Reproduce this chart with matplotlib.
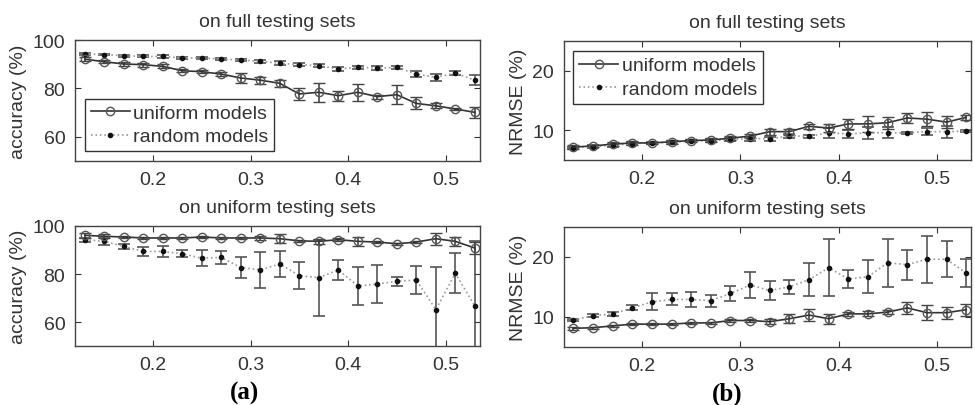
import matplotlib
matplotlib.use("Agg")
import matplotlib.pyplot as plt
from matplotlib.lines import Line2D

plt.rcParams["font.family"] = ["Liberation Sans", "DejaVu Sans"]

# sampling rate values on the x axis
rates = [0.13, 0.15, 0.17, 0.19, 0.21, 0.23, 0.25, 0.27, 0.29, 0.31, 0.33,
         0.35, 0.37, 0.39, 0.41, 0.43, 0.45, 0.47, 0.49, 0.51, 0.53]

# (a) accuracy, full testing sets
acc_full_uni = [92.1, 91.0, 90.1, 89.8, 89.1, 87.3, 86.9, 85.9, 84.3, 83.4, 82.1,
                77.7, 78.4, 77.0, 78.4, 76.6, 77.4, 73.8, 72.8, 71.5, 70.1]
acc_full_uni_err = [0.8, 0.7, 0.7, 0.8, 0.8, 0.7, 0.6, 0.8, 2.0, 1.5, 1.5,
                    2.5, 4.0, 2.0, 3.6, 0.8, 4.0, 2.5, 1.0, 0.5, 2.4]
acc_full_rnd = [94.2, 94.0, 93.5, 93.2, 93.2, 92.6, 92.6, 92.1, 91.7, 91.2, 90.4,
                89.8, 89.4, 88.0, 88.7, 88.4, 88.7, 85.9, 84.6, 86.3, 83.4]
acc_full_rnd_err = [0.5, 0.4, 0.5, 0.4, 0.5, 0.4, 0.4, 0.4, 0.4, 0.5, 0.8,
                    0.6, 0.5, 0.7, 0.5, 0.8, 0.7, 1.2, 1.5, 0.8, 2.2]

# (a) accuracy, uniform testing sets
acc_unif_uni = [96.1, 95.7, 95.4, 95.0, 95.0, 95.0, 95.4, 95.0, 95.0, 95.0, 94.7,
                93.8, 93.6, 94.3, 93.6, 93.3, 92.6, 93.3, 94.7, 93.6, 90.8]
acc_unif_uni_err = [1.0, 0.8, 0.6, 0.6, 0.5, 0.5, 0.5, 0.5, 0.5, 1.0, 1.8,
                    0.5, 1.0, 0.5, 2.0, 0.5, 0.5, 0.6, 2.5, 1.8, 2.5]
acc_unif_rnd = [94.3, 93.6, 91.5, 89.4, 89.4, 88.4, 86.6, 86.9, 82.7, 81.7, 84.2,
                79.3, 78.5, 81.7, 75.0, 75.8, 77.0, 77.5, 65.2, 80.3, 66.7]
acc_unif_rnd_err = [0.8, 1.7, 1.0, 1.7, 2.4, 1.5, 3.3, 2.8, 4.2, 7.5, 5.5,
                    5.6, 15.8, 4.0, 8.0, 8.0, 1.8, 6.0, 17.6, 8.4, 27.0]

# (b) NRMSE, full testing sets
nrmse_full_uni = [7.2, 7.4, 7.7, 7.9, 7.9, 8.1, 8.3, 8.4, 8.7, 9.05, 9.8,
                  9.8, 10.7, 10.4, 11.1, 11.1, 11.3, 12.1, 11.9, 11.4, 12.2]
nrmse_full_uni_err = [0.3, 0.2, 0.3, 0.3, 0.2, 0.3, 0.2, 0.3, 0.3, 0.4, 0.5,
                      0.5, 0.4, 0.6, 0.8, 1.3, 1.0, 0.9, 1.2, 1.0, 0.4]
nrmse_full_rnd = [7.1, 7.3, 7.5, 7.8, 7.9, 8.0, 8.2, 8.3, 8.5, 8.6, 8.6,
                  9.1, 9.0, 9.6, 9.4, 9.6, 9.6, 9.6, 9.8, 9.8, 9.9]
nrmse_full_rnd_err = [0.2, 0.2, 0.2, 0.3, 0.2, 0.3, 0.2, 0.2, 0.3, 0.3, 0.3,
                      0.3, 0.2, 0.8, 0.6, 1.0, 0.9, 0.2, 0.6, 1.0, 0.2]

# (b) NRMSE, uniform testing sets
nrmse_unif_uni = [8.1, 8.2, 8.5, 8.8, 8.8, 8.8, 9.0, 9.0, 9.4, 9.4, 9.2,
                  9.7, 10.3, 9.7, 10.5, 10.5, 10.8, 11.5, 10.7, 10.7, 11.2]
nrmse_unif_uni_err = [0.3, 0.2, 0.2, 0.2, 0.2, 0.2, 0.2, 0.2, 0.2, 0.2, 0.4,
                      0.7, 1.0, 0.8, 0.3, 0.4, 0.3, 1.0, 1.2, 1.0, 1.0]
nrmse_unif_rnd = [9.5, 10.2, 10.5, 11.5, 12.5, 12.9, 12.9, 12.7, 13.9, 15.3, 14.4,
                  15.0, 16.2, 18.2, 16.3, 16.7, 19.0, 18.7, 19.6, 19.6, 17.3]
nrmse_unif_rnd_err = [0.2, 0.2, 0.3, 0.4, 1.4, 1.0, 1.3, 1.0, 1.2, 2.2, 1.6,
                      1.2, 2.8, 4.7, 1.5, 2.7, 4.0, 2.5, 3.9, 3.0, 2.4]

titles = ["on full testing sets", "on uniform testing sets"]
series_names = ["uniform models", "random models"]

uni_style = dict(color="#333333", ls="-", lw=1.2, marker="o", ms=6,
                 mfc="none", mec="#555555", mew=1.0)
rnd_style = dict(color="#9a9a9a", ls=":", lw=1.2, marker=".", ms=6,
                 mfc="#111111", mec="#111111")


def draw(ax, uni, uni_err, rnd, rnd_err, ylim, yticks, ylabel, title):
    ax.errorbar(rates, rnd, yerr=rnd_err, ecolor="#555555", elinewidth=1.2,
                capsize=4, capthick=1.2, **rnd_style)
    ax.errorbar(rates, uni, yerr=uni_err, ecolor="#444444", elinewidth=1.2,
                capsize=4, capthick=1.2, **uni_style)
    ax.set_xlim(0.12, 0.535)
    ax.set_ylim(*ylim)
    ax.set_xticks([0.2, 0.3, 0.4, 0.5])
    ax.set_yticks(yticks)
    ax.tick_params(direction="in", top=True, right=True, length=4,
                   labelsize=14, colors="#333333", pad=7)
    for s in ax.spines.values():
        s.set_color("#444444")
        s.set_linewidth(1.0)
    ax.set_ylabel(ylabel, fontsize=14, color="#333333", labelpad=4)
    ax.set_title(title, fontsize=14, color="#333333", pad=10)


fig = plt.figure(figsize=(9.75, 4.06), dpi=100)
ax1 = fig.add_axes([0.077, 0.601, 0.415, 0.298])
ax2 = fig.add_axes([0.077, 0.145, 0.415, 0.296])
ax3 = fig.add_axes([0.578, 0.603, 0.418, 0.293])
ax4 = fig.add_axes([0.578, 0.143, 0.418, 0.296])

draw(ax1, acc_full_uni, acc_full_uni_err, acc_full_rnd, acc_full_rnd_err,
     (50, 100), [60, 80, 100], "accuracy (%)", titles[0])
draw(ax2, acc_unif_uni, acc_unif_uni_err, acc_unif_rnd, acc_unif_rnd_err,
     (50, 100), [60, 80, 100], "accuracy (%)", titles[1])
draw(ax3, nrmse_full_uni, nrmse_full_uni_err, nrmse_full_rnd, nrmse_full_rnd_err,
     (5, 25), [10, 20], "NRMSE (%)", titles[0])
draw(ax4, nrmse_unif_uni, nrmse_unif_uni_err, nrmse_unif_rnd, nrmse_unif_rnd_err,
     (5, 25), [10, 20], "NRMSE (%)", titles[1])

handles = [Line2D([], [], **uni_style), Line2D([], [], **rnd_style)]
for ax, loc in [(ax1, "lower left"), (ax3, "upper left")]:
    leg = ax.legend(handles, series_names, loc=loc, fontsize=14, fancybox=False,
                    edgecolor="#333333", framealpha=1, handlelength=2.0,
                    handletextpad=0.2, borderpad=0.3, labelspacing=0.3,
                    borderaxespad=0.5, numpoints=1)
    leg.get_frame().set_linewidth(1.0)
    for t in leg.get_texts():
        t.set_color("#333333")

fig.text(0.251, 0.03, "(a)", ha="center", va="center", fontsize=18,
         fontweight="bold", family=["Liberation Serif", "DejaVu Serif"])
fig.text(0.746, 0.03, "(b)", ha="center", va="center", fontsize=18,
         fontweight="bold", family=["Liberation Serif", "DejaVu Serif"])

fig.savefig("out.png", dpi=100)
